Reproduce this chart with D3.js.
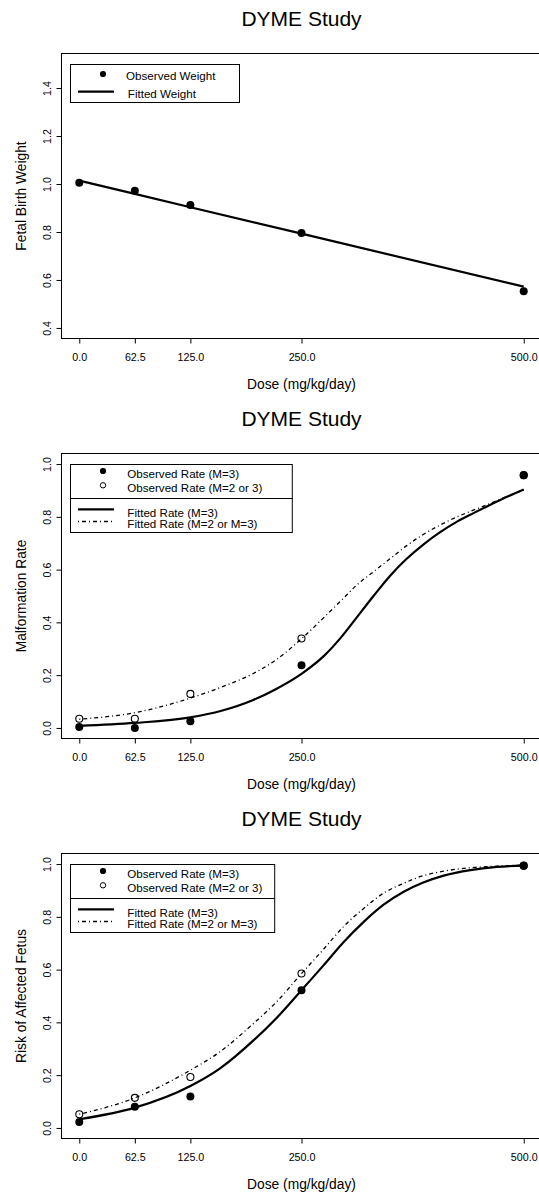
<!DOCTYPE html>
<html>
<head>
<meta charset="utf-8">
<script src="https://cdn.jsdelivr.net/npm/d3@7"></script>
<style>
  body { margin: 0; background: #fff; }
  svg { display: block; }
</style>
</head>
<body>
<div id="chart-container"></div>
<script>
//Chart data

const doses = [0, 62.5, 125, 250, 500];
const doseTickLabels = ["0.0", "62.5", "125.0", "250.0", "500.0"];

const weightObserved = [1.005, 0.972, 0.913, 0.796, 0.553];
const weightFitted = [1.014, 0.959, 0.903, 0.793, 0.572];
const weightTicks = [0.4, 0.6, 0.8, 1.0, 1.2, 1.4];

const malfObsM3 = [0.004, 0.0, 0.025, 0.238, 0.958];
const malfObsM23 = [0.035, 0.035, 0.129, 0.339, 0.958];
const malfCurveDoses = [0, 62.5, 125, 160, 195, 220, 250, 275, 295, 312, 331, 350, 368, 387, 406, 425, 444, 462, 480, 500];
const malfFitM3 = [0.008, 0.019, 0.040, 0.065, 0.105, 0.145, 0.205, 0.272, 0.345, 0.418, 0.500, 0.578, 0.640, 0.695, 0.742, 0.782, 0.815, 0.845, 0.874, 0.904];
const malfFitM23 = [0.033, 0.058, 0.113, 0.155, 0.205, 0.255, 0.338, 0.418, 0.484, 0.541, 0.592, 0.642, 0.690, 0.733, 0.769, 0.800, 0.826, 0.850, 0.876, 0.901];

const riskObsM3 = [0.023, 0.080, 0.119, 0.522, 0.994];
const riskObsM23 = [0.052, 0.114, 0.193, 0.585, 0.994];
const riskCurveDoses = [0, 62.5, 125, 158, 196, 222, 250, 275, 297, 320, 342, 365, 387, 410, 440, 470, 500];
const riskFitM3 = [0.033, 0.077, 0.159, 0.225, 0.332, 0.417, 0.522, 0.617, 0.703, 0.781, 0.845, 0.895, 0.930, 0.956, 0.977, 0.989, 0.994];
const riskFitM23 = [0.052, 0.114, 0.219, 0.288, 0.396, 0.478, 0.585, 0.678, 0.762, 0.832, 0.889, 0.927, 0.956, 0.973, 0.986, 0.992, 0.996];

const rateTicks = [0, 0.2, 0.4, 0.6, 0.8, 1.0];

//Define page and plot-region constants

const width = 539;
const height = 1195;
const plot = { left: 61.5, right: 541.5, top: 53.5, bottom: 338.5 };
const font = "'Liberation Sans', Arial, Helvetica, sans-serif";

const svg = d3.select("#chart-container")
  .append("svg")
  .attr("width", width)
  .attr("height", height)
  .style("font-family", font);

svg.append("rect")
  .attr("width", width)
  .attr("height", height)
  .attr("fill", "#fff");

//Shared x scale (R style 4% padding on 0..500)

const xScale = d3.scaleLinear().domain([-20, 520]).range([plot.left, plot.right]);

//Draw one panel

function drawPanel(offsetY, cfg) {

  const g = svg.append("g").attr("transform", `translate(0,${offsetY})`);

  const yScale = d3.scaleLinear().domain(cfg.yDomain).range([plot.bottom, plot.top]);

  //Title
  g.append("text")
    .attr("x", (plot.left + plot.right) / 2)
    .attr("y", 26)
    .attr("text-anchor", "middle")
    .style("font-size", "21px")
    .text("DYME Study");

  //x axis
  g.append("g")
    .attr("transform", `translate(0,${plot.bottom})`)
    .call(d3.axisBottom(xScale)
      .tickValues(doses)
      .tickFormat((d, i) => doseTickLabels[i])
      .tickSize(5)
      .tickPadding(9.6))
    .call((a) => a.select(".domain").remove())
    .attr("font-family", font)
    .attr("font-size", "10.7px")
    .selectAll("text").attr("fill", "#000");

  //y axis with rotated labels
  g.append("g")
    .attr("transform", `translate(${plot.left},0)`)
    .call(d3.axisLeft(yScale)
      .tickValues(cfg.yTicks)
      .tickFormat(d3.format(".1f"))
      .tickSize(5))
    .call((a) => a.select(".domain").remove())
    .attr("font-family", font)
    .attr("font-size", "10.7px")
    .selectAll(".tick text")
      .attr("x", 0)
      .attr("dy", null)
      .attr("fill", "#000")
      .attr("text-anchor", "middle")
      .attr("transform", "translate(-10.8,0) rotate(-90)");

  //Axis titles
  g.append("text")
    .attr("x", (plot.left + plot.right) / 2)
    .attr("y", 389)
    .attr("text-anchor", "middle")
    .style("font-size", "13.8px")
    .text("Dose (mg/kg/day)");

  g.append("text")
    .attr("transform", `translate(26.3,${(plot.top + plot.bottom) / 2}) rotate(-90)`)
    .attr("text-anchor", "middle")
    .style("font-size", "13.8px")
    .text(cfg.yLabel);

  //Fitted lines
  cfg.lines.forEach((ln) => {
    const pts = ln.x.map((d, i) => [d, ln.y[i]]);
    g.append("path")
      .datum(pts)
      .attr("fill", "none")
      .attr("stroke", "#000")
      .attr("stroke-width", ln.dashed ? 1.3 : 2.2)
      .attr("stroke-dasharray", ln.dashed ? "1,3,4,3" : null)
      .attr("d", d3.line()
        .curve(ln.x.length > 5 ? d3.curveMonotoneX : d3.curveLinear)
        .x((d) => xScale(d[0]))
        .y((d) => yScale(d[1])));
  });

  //Observed points (open first, filled on top)
  cfg.points.forEach((p) => {
    g.selectAll(null)
      .data(p.y)
      .join("circle")
      .attr("cx", (d, i) => xScale(doses[i]))
      .attr("cy", (d) => yScale(d))
      .attr("r", p.open ? 3.5 : 4)
      .attr("fill", p.open ? "none" : "#000")
      .attr("stroke", p.open ? "#000" : "none")
      .attr("stroke-width", 1.1);
  });

  //Plot box
  g.append("rect")
    .attr("x", plot.left)
    .attr("y", plot.top)
    .attr("width", plot.right - plot.left)
    .attr("height", plot.bottom - plot.top)
    .attr("fill", "none")
    .attr("stroke", "#000")
    .attr("stroke-width", 1);

  //Legend
  const lg = g.append("g");
  lg.append("rect")
    .attr("x", 70.5)
    .attr("y", 64.5)
    .attr("width", cfg.legendWidth)
    .attr("height", cfg.legendHeight)
    .attr("fill", "#fff")
    .attr("stroke", "#000")
    .attr("stroke-width", 1);

  if (cfg.legendSplit) {
    lg.append("line")
      .attr("x1", 70.5).attr("x2", 70.5 + cfg.legendWidth)
      .attr("y1", 98.5).attr("y2", 98.5)
      .attr("stroke", "#000");
  }

  cfg.legend.forEach((e) => {
    if (e.type === "point") {
      lg.append("circle")
        .attr("cx", 103)
        .attr("cy", e.y)
        .attr("r", e.open ? 2.7 : 3.1)
        .attr("fill", e.open ? "none" : "#000")
        .attr("stroke", e.open ? "#000" : "none")
        .attr("stroke-width", 1);
    } else {
      lg.append("line")
        .attr("x1", 78).attr("x2", 114)
        .attr("y1", e.y).attr("y2", e.y)
        .attr("stroke", "#000")
        .attr("stroke-width", e.dashed ? 1.3 : 2.2)
        .attr("stroke-dasharray", e.dashed ? "1,3,4,3" : null);
    }
    lg.append("text")
      .attr("x", e.tx)
      .attr("y", e.ty)
      .style("font-size", "11.6px")
      .text(e.label);
  });
}

//Panel 1: fetal birth weight

drawPanel(0, {
  yDomain: [0.356, 1.544],
  yTicks: weightTicks,
  yLabel: "Fetal Birth Weight",
  lines: [{ x: doses, y: weightFitted, dashed: false }],
  points: [{ y: weightObserved, open: false }],
  legendWidth: 169,
  legendHeight: 38,
  legendSplit: false,
  legend: [
    { type: "point", open: false, y: 74, tx: 126.1, ty: 80.3, label: "Observed Weight" },
    { type: "line", dashed: false, y: 91.7, tx: 127.8, ty: 98.2, label: "Fitted Weight" }
  ]
});

//Panel 2: malformation rate

drawPanel(400, {
  yDomain: [-0.04, 1.04],
  yTicks: rateTicks,
  yLabel: "Malformation Rate",
  lines: [
    { x: malfCurveDoses, y: malfFitM3, dashed: false },
    { x: malfCurveDoses, y: malfFitM23, dashed: true }
  ],
  points: [{ y: malfObsM23, open: true }, { y: malfObsM3, open: false }],
  legendWidth: 221.8,
  legendHeight: 68,
  legendSplit: true,
  legend: [
    { type: "point", open: false, y: 71, tx: 127.3, ty: 78.3, label: "Observed Rate (M=3)" },
    { type: "point", open: true, y: 85.3, tx: 127.3, ty: 92, label: "Observed Rate (M=2 or 3)" },
    { type: "line", dashed: false, y: 109.3, tx: 127.3, ty: 116.8, label: "Fitted Rate (M=3)" },
    { type: "line", dashed: true, y: 121.5, tx: 127.3, ty: 128, label: "Fitted Rate (M=2 or M=3)" }
  ]
});

//Panel 3: risk of affected fetus

drawPanel(800, {
  yDomain: [-0.04, 1.04],
  yTicks: rateTicks,
  yLabel: "Risk of Affected Fetus",
  lines: [
    { x: riskCurveDoses, y: riskFitM3, dashed: false },
    { x: riskCurveDoses, y: riskFitM23, dashed: true }
  ],
  points: [{ y: riskObsM23, open: true }, { y: riskObsM3, open: false }],
  legendWidth: 204.2,
  legendHeight: 68,
  legendSplit: true,
  legend: [
    { type: "point", open: false, y: 71, tx: 127.3, ty: 78.3, label: "Observed Rate (M=3)" },
    { type: "point", open: true, y: 85.3, tx: 127.3, ty: 92, label: "Observed Rate (M=2 or 3)" },
    { type: "line", dashed: false, y: 109.3, tx: 127.3, ty: 116.8, label: "Fitted Rate (M=3)" },
    { type: "line", dashed: true, y: 121.5, tx: 127.3, ty: 128, label: "Fitted Rate (M=2 or M=3)" }
  ]
});
</script>
</body>
</html>
